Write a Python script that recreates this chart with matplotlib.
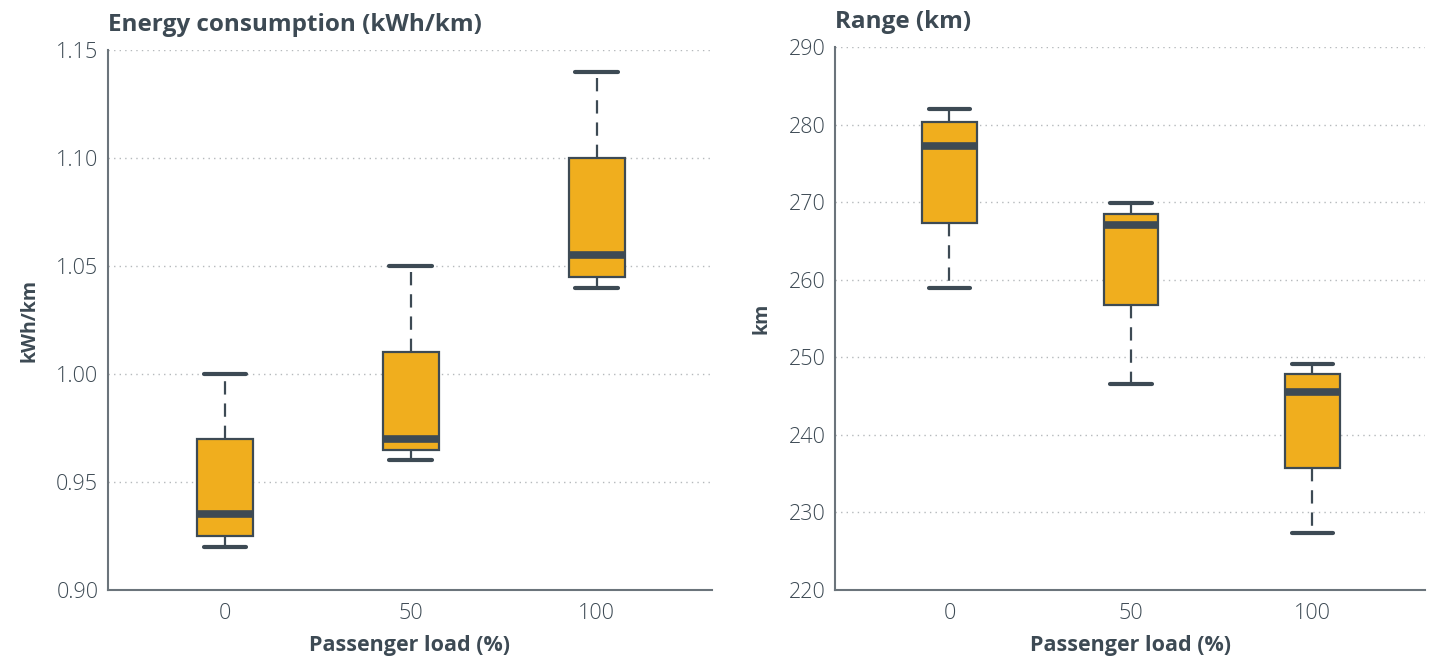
import numpy as np
import matplotlib.pyplot as plt

# datos
cargas = ["0", "50", "100"]

# consumo de energia (kWh/km): bigote inferior, q1, mediana, q3, bigote superior
energia_min = [0.920, 0.960, 1.040]
energia_q1 = [0.925, 0.965, 1.045]
energia_med = [0.935, 0.970, 1.055]
energia_q3 = [0.970, 1.010, 1.100]
energia_max = [1.000, 1.050, 1.140]

# autonomia (km)
rango_min = [259.0, 246.6, 227.3]
rango_q1 = [267.3, 256.8, 235.8]
rango_med = [277.3, 267.0, 245.5]
rango_q3 = [280.3, 268.5, 247.9]
rango_max = [282.0, 269.9, 249.1]

oscuro = "#3d4a54"
amarillo = "#f0ae1e"
plt.rcParams['font.family'] = ['Open Sans', 'DejaVu Sans']


def hacer_stats(mn, q1, med, q3, mx):
    st = []
    for i in range(len(mn)):
        st.append(dict(whislo=mn[i], q1=q1[i], med=med[i], q3=q3[i],
                       whishi=mx[i], fliers=[], label=cargas[i]))
    return st


def dibujar(ax, stats, titulo, ylabel, ylim, yticks, fmt):
    ax.bxp(stats, positions=range(len(stats)), widths=0.3, patch_artist=True,
           showfliers=False,
           boxprops=dict(facecolor=amarillo, edgecolor=oscuro, linewidth=1.6),
           medianprops=dict(color=oscuro, linewidth=5.5, solid_capstyle='butt'),
           whiskerprops=dict(color=oscuro, linewidth=1.6, linestyle=(0, (6, 4))),
           capprops=dict(color=oscuro, linewidth=3, solid_capstyle='round'),
           capwidths=0.23)
    ax.set_xlim(-0.63, 2.62)
    ax.set_ylim(*ylim)
    ax.set_yticks(yticks)
    ax.set_yticklabels([fmt.format(v) for v in yticks])
    ax.yaxis.grid(True, linestyle=(0, (1, 3)), color="#b5b9bc", linewidth=1)
    ax.set_axisbelow(True)
    for s in ["top", "right"]:
        ax.spines[s].set_visible(False)
    for s in ["left", "bottom"]:
        ax.spines[s].set_color("#6b747b")
        ax.spines[s].set_linewidth(1.5)
    ax.tick_params(length=0, labelsize=15.5, colors=oscuro, pad=7)
    ax.tick_params(axis='x', pad=9)
    for t in ax.get_xticklabels() + ax.get_yticklabels():
        t.set_fontweight('light')
    ax.set_xlabel("Passenger load (%)", fontsize=15.5, fontweight='bold',
                  color=oscuro, labelpad=8)
    ax.set_ylabel(ylabel, fontsize=14, fontweight='bold', color=oscuro, labelpad=12)
    ax.set_title(titulo, loc='left', fontsize=17.5, fontweight='bold', color=oscuro,
                 pad=14, x=0.0)


fig = plt.figure(figsize=(14.48, 6.63), dpi=100)
ax1 = fig.add_axes([0.0746, 0.110, 0.417, 0.8146])
ax2 = fig.add_axes([0.5767, 0.110, 0.4074, 0.819])

dibujar(ax1, hacer_stats(energia_min, energia_q1, energia_med, energia_q3, energia_max),
        "Energy consumption (kWh/km)", "kWh/km", (0.90, 1.15),
        [0.90, 0.95, 1.00, 1.05, 1.10, 1.15], "{:.2f}")
dibujar(ax2, hacer_stats(rango_min, rango_q1, rango_med, rango_q3, rango_max),
        "Range (km)", "km", (220, 290), list(range(220, 291, 10)), "{:.0f}")

fig.savefig("out.png", dpi=100)
